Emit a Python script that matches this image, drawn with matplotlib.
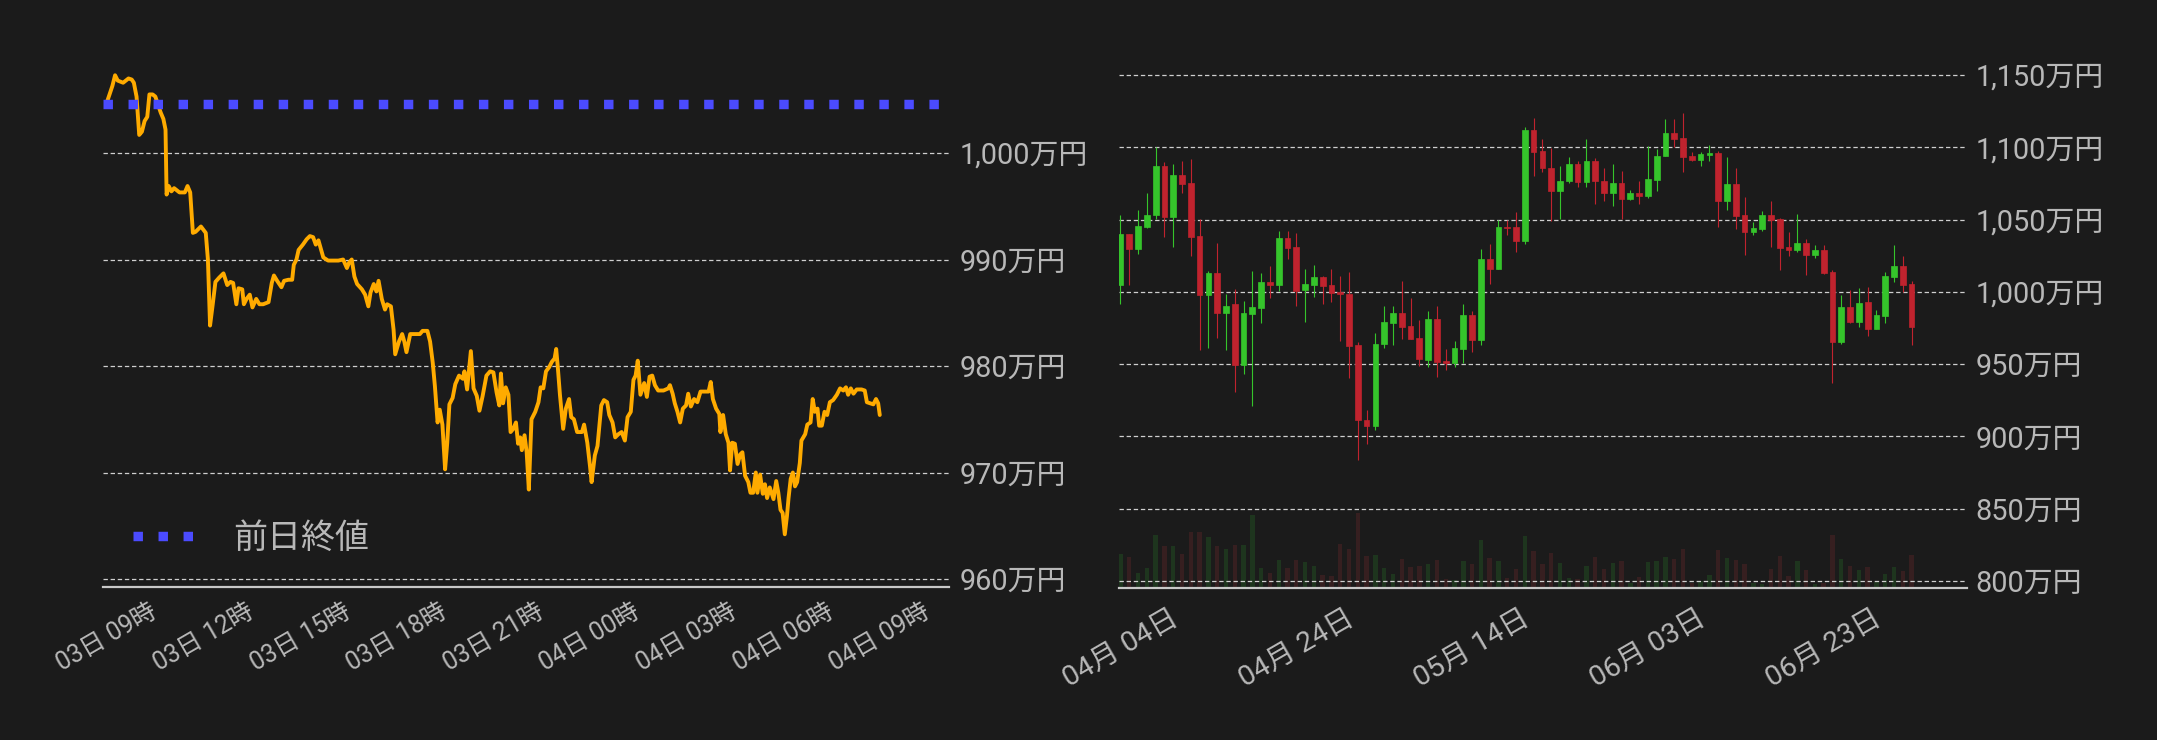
import matplotlib
matplotlib.use("Agg")
import matplotlib.pyplot as plt

plt.rcParams["font.family"] = ["Roboto", "Noto Sans CJK JP", "DejaVu Sans"]

BG = "#1b1b1b"
TXT = "#b8b8b8"
GRID = "#cfcfcf"
UP = "#35c42b"
DOWN = "#c0232e"
UP_VOL = "#1e351e"
DOWN_VOL = "#361f20"

# ---- intraday (minutes after 03日 09:00) ----
intra_min = [0, 10, 15, 20, 30, 40, 46, 50, 55, 60, 65, 70, 75, 79, 85, 90, 94, 100, 105, 109,
             111, 115, 120, 125, 135, 145, 150, 155, 160, 165, 175, 184, 188, 192, 197, 202, 209,
             217, 224, 230, 235, 241, 245, 252, 255, 260, 266, 271, 278, 284, 291, 301, 307, 311,
             317, 325, 330, 338, 345, 348, 353, 357, 365, 372, 378, 384, 389, 394, 398, 403, 412,
             422, 431, 440, 447, 451, 456, 461, 466, 475, 481, 487, 491, 497, 502, 506, 512, 518,
             522, 529, 534, 537, 544, 550, 554, 558, 565, 574, 583, 588, 597, 602, 607, 611, 616,
             620, 625, 630, 634, 638, 644, 649, 656, 663, 666, 671, 678, 683, 689, 694, 700, 707,
             714, 720, 726, 731, 734, 738, 743, 748, 752, 757, 762, 766, 770, 773, 778, 782, 786,
             791, 798, 804, 808, 813, 818, 824, 829, 834, 837, 840, 844, 850, 855, 861, 865, 870,
             876, 885, 889, 895, 900, 903, 909, 914, 921, 926, 932, 936, 942, 947, 953, 959, 965,
             970, 976, 981, 985, 989, 994, 1001, 1006, 1011, 1016, 1021, 1027, 1037, 1046, 1049,
             1054, 1058, 1063, 1068, 1073, 1079, 1083, 1088, 1094, 1100, 1106, 1114, 1121, 1125,
             1129, 1135, 1141, 1143, 1148, 1153, 1158, 1161, 1165, 1170, 1175, 1180, 1184, 1189,
             1195, 1199, 1204, 1209, 1212, 1217, 1222, 1226, 1230, 1235, 1242, 1247, 1251, 1255,
             1259, 1263, 1267, 1270, 1274, 1278, 1282, 1286, 1291, 1294, 1301, 1305, 1311, 1315,
             1319, 1324, 1327, 1332, 1337, 1342, 1347, 1353, 1360, 1366, 1372, 1377, 1381, 1386,
             1391, 1397, 1406, 1412, 1416, 1422, 1428, 1433, 1437, 1440]
intra_price = [1004.8, 1006.3, 1007.3, 1006.8, 1006.6, 1007.0, 1006.9, 1006.6, 1005.3, 1001.7,
               1002.0, 1003.0, 1003.4, 1005.5, 1005.5, 1005.3, 1004.7, 1003.8, 1003.2, 1002.2,
               996.1, 996.9, 996.4, 996.7, 996.3, 996.3, 996.9, 996.3, 992.5, 992.6, 993.1, 992.5,
               990.0, 983.8, 985.8, 987.9, 988.3, 988.7, 987.6, 987.9, 987.8, 985.8, 987.3, 987.2,
               985.8, 986.3, 986.7, 985.5, 986.3, 985.8, 985.8, 986.0, 987.8, 988.5, 988.0, 987.4,
               988.0, 988.1, 988.1, 989.5, 990.0, 990.9, 991.4, 991.9, 992.2, 992.1, 991.4, 991.8,
               991.1, 990.2, 989.9, 989.9, 989.9, 990.0, 989.2, 989.7, 990.0, 988.4, 987.7, 987.2,
               986.7, 985.6, 986.9, 987.7, 987.0, 988.0, 986.3, 985.3, 985.8, 985.6, 983.4, 981.1,
               982.3, 983.0, 982.3, 981.3, 983.0, 983.0, 983.0, 983.3, 983.3, 982.3, 980.3, 978.1,
               974.7, 975.9, 974.5, 970.3, 972.8, 976.4, 977.0, 978.3, 979.1, 978.8, 979.5, 977.8,
               981.4, 977.9, 977.2, 975.8, 977.2, 979.1, 979.5, 979.4, 977.5, 976.3, 979.3, 976.5,
               978.0, 977.3, 973.8, 974.1, 974.7, 972.7, 973.3, 972.1, 973.5, 971.9, 968.4, 975.0,
               975.7, 976.6, 978.0, 977.9, 979.5, 979.9, 980.4, 980.7, 981.6, 979.9, 977.3, 974.1,
               976.0, 976.9, 975.2, 975.0, 973.8, 973.8, 974.5, 972.8, 970.6, 969.1, 971.6, 972.5,
               976.3, 976.8, 976.6, 975.4, 974.7, 973.3, 973.6, 973.8, 973.0, 975.2, 975.7, 978.7,
               979.1, 980.5, 977.3, 978.4, 977.1, 979.0, 979.1, 978.2, 977.7, 977.7, 977.9, 978.2,
               977.4, 976.5, 975.7, 974.7, 976.0, 976.3, 977.4, 976.2, 976.9, 976.6, 977.6, 977.6,
               977.6, 978.5, 976.9, 976.0, 975.5, 973.8, 975.4, 973.6, 972.8, 970.2, 972.8, 972.7,
               970.8, 971.7, 971.9, 969.7, 969.1, 968.1, 968.1, 970.0, 968.1, 969.8, 968.0, 968.9,
               967.6, 968.6, 967.5, 969.2, 968.1, 966.5, 966.2, 964.2, 965.9, 967.6, 969.4, 970.0,
               968.7, 969.1, 970.9, 973.0, 973.6, 974.5, 974.7, 976.9, 975.7, 976.0, 974.4, 974.4,
               975.7, 975.4, 976.6, 976.8, 977.3, 977.9, 977.7, 978.0, 977.3, 977.9, 977.4, 977.8,
               977.8, 977.7, 976.6, 976.5, 976.4, 976.9, 976.5, 975.4]
prev_close = 1004.6

intra_ticks = [0, 180, 360, 540, 720, 900, 1080, 1260, 1440]
intra_labels = ["03日 09時", "03日 12時", "03日 15時", "03日 18時", "03日 21時",
                "04日 00時", "04日 03時", "04日 06時", "04日 09時"]
intra_yticks = [960, 970, 980, 990, 1000]

# ---- daily candles, 04月04日 .. 07月03日 ----
opens = [1004.6, 1040.1, 1029.5, 1044.8, 1053.1, 1086.7, 1051.7, 1080.5, 1075.0, 1038.3,
         997.7, 1012.7, 985.2, 991.2, 949.3, 984.5, 988.7, 1006.5, 1004.6, 1036.9,
         1030.7, 1001.2, 1004.6, 1009.9, 1004.4, 999.8, 998.8, 962.9, 911.6, 907.0,
         963.8, 978.3, 985.0, 976.0, 967.7, 952.7, 980.9, 951.8, 950.4, 960.3,
         983.6, 966.6, 1022.4, 1015.7, 1044.5, 1044.5, 1035.1, 1112.3, 1097.1, 1086.0,
         1069.7, 1076.6, 1088.1, 1075.9, 1090.2, 1077.0, 1068.3, 1075.0, 1063.9, 1068.1,
         1066.2, 1077.3, 1093.9, 1109.6, 1106.1, 1093.7, 1090.9, 1094.6, 1095.7, 1062.7,
         1074.3, 1052.8, 1041.3, 1043.4, 1052.8, 1050.3, 1030.7, 1028.8, 1034.1, 1025.4,
         1028.6, 1013.4, 965.2, 989.2, 979.0, 992.6, 974.2, 983.2, 1010.1, 1017.5, 1005.1]
highs = [1052.8, 1040.1, 1056.3, 1068.1, 1100.3, 1089.5, 1088.1, 1090.2, 1091.6, 1050.1,
         1014.1, 1034.1, 998.2, 1001.6, 993.3, 1014.1, 1012.7, 1017.5, 1041.8, 1042.4,
         1040.4, 1016.1, 1018.2, 1010.8, 1015.5, 1010.6, 1013.4, 964.9, 917.9, 971.2,
         989.9, 989.9, 1007.2, 995.4, 980.2, 986.4, 990.5, 960.1, 965.6, 991.2,
         986.4, 1029.3, 1032.8, 1049.4, 1049.4, 1054.9, 1113.7, 1120.0, 1105.4, 1099.2,
         1086.7, 1093.0, 1090.2, 1105.4, 1092.3, 1086.0, 1088.1, 1083.3, 1070.1, 1076.4,
         1100.6, 1098.5, 1119.3, 1119.3, 1123.4, 1096.4, 1096.4, 1101.3, 1097.1, 1093.0,
         1085.4, 1065.3, 1048.0, 1055.6, 1062.5, 1051.4, 1041.1, 1053.5, 1036.2, 1032.1,
         1032.3, 1014.8, 997.5, 1000.9, 1002.3, 1003.0, 987.1, 1013.4, 1032.3, 1025.1, 1007.8]
lows = [991.5, 1004.6, 1025.8, 1043.8, 1050.1, 1037.8, 1030.9, 1068.3, 1024.7, 959.4,
        961.0, 967.9, 959.4, 930.6, 943.0, 920.9, 978.3, 995.4, 1000.2, 1022.4,
        990.5, 979.0, 996.1, 991.2, 992.6, 965.6, 940.0, 883.3, 894.6, 904.0,
        961.0, 962.9, 967.2, 967.0, 948.3, 947.9, 940.9, 945.6, 947.9, 950.6,
        958.0, 962.9, 1005.1, 1015.7, 1039.0, 1027.2, 1033.4, 1080.0, 1082.6, 1048.7,
        1050.7, 1075.2, 1072.2, 1072.2, 1060.4, 1062.7, 1059.3, 1050.7, 1063.2, 1060.4,
        1064.8, 1069.7, 1093.9, 1100.1, 1082.8, 1090.2, 1087.0, 1090.2, 1044.8, 1056.5,
        1043.4, 1025.4, 1039.2, 1042.0, 1030.9, 1015.0, 1024.7, 1027.5, 1011.5, 1023.3,
        1012.0, 936.8, 963.8, 978.3, 975.3, 969.3, 974.2, 978.3, 1006.7, 999.8, 963.1]
closes = [1040.1, 1029.5, 1045.2, 1053.3, 1086.7, 1051.7, 1080.5, 1074.7, 1037.8, 997.7,
          1012.7, 985.2, 990.5, 949.3, 985.0, 989.2, 1006.5, 1004.6, 1036.9, 1030.2,
          1000.2, 1005.1, 1009.9, 1003.9, 999.3, 998.4, 962.4, 911.2, 907.0, 963.6,
          978.8, 985.0, 975.5, 967.2, 953.4, 980.9, 951.3, 950.4, 960.8, 983.6,
          966.6, 1022.4, 1015.7, 1044.5, 1044.1, 1035.1, 1112.3, 1096.7, 1085.6, 1069.7,
          1077.0, 1088.1, 1075.9, 1090.2, 1076.6, 1068.3, 1075.0, 1063.9, 1068.1, 1066.2,
          1077.7, 1094.3, 1109.6, 1105.7, 1093.2, 1090.9, 1095.0, 1095.7, 1062.7, 1074.3,
          1052.4, 1041.3, 1043.8, 1052.8, 1049.6, 1030.2, 1028.8, 1034.1, 1025.4, 1028.6,
          1012.9, 965.2, 989.2, 979.0, 991.9, 974.2, 983.6, 1010.6, 1017.5, 1004.6, 975.5]
volume = [102, 92, 44, 59, 159, 125, 125, 102, 167, 167,
          152, 125, 116, 128, 128, 218, 59, 44, 83, 59,
          83, 77, 65, 38, 35, 131, 116, 224, 95, 98,
          59, 41, 86, 62, 65, 71, 83, 26, 23, 80,
          71, 143, 89, 80, 29, 56, 155, 110, 71, 104,
          74, 29, 26, 65, 92, 56, 74, 80, 14, 32,
          77, 81, 92, 86, 116, 14, 22, 39, 113, 89,
          83, 71, 14, 12, 56, 95, 35, 80, 53, 12,
          14, 159, 86, 65, 53, 62, 17, 41, 62, 50, 98]

day_ticks = [0, 20, 40, 60, 80]
day_labels = ["04月 04日", "04月 24日", "05月 14日", "06月 03日", "06月 23日"]
daily_yticks = [800, 850, 900, 950, 1000, 1050, 1100, 1150]


def yen(v):
    return f"{v:,}万円"


def style(ax, ypad):
    ax.set_facecolor(BG)
    for s in ["top", "left", "right"]:
        ax.spines[s].set_visible(False)
    ax.spines["bottom"].set_color("#c8c8c8")
    ax.spines["bottom"].set_linewidth(1.6)
    ax.yaxis.tick_right()
    ax.tick_params(axis="both", length=0, colors=TXT)
    ax.tick_params(axis="y", pad=ypad, labelsize=20.8)
    ax.grid(axis="y", color=GRID, linewidth=0.9, linestyle=(0, (3.5, 2.2)))
    ax.set_axisbelow(True)


W, H = 2157, 740
fig = plt.figure(figsize=(W / 100, H / 100), dpi=100, facecolor=BG)

# ---------- left: intraday line ----------
ax1 = fig.add_axes([103 / W, (H - 587) / H, 846 / W, 537 / H])
style(ax1, 8)
ax1.plot(intra_min, intra_price, color="#ffab00", linewidth=2.8,
         solid_joinstyle="round", solid_capstyle="round")
ax1.axhline(prev_close, color="#4b4bff", linewidth=6.8, linestyle=":",
            dash_capstyle="butt", label="前日終値")
ax1.set_xlim(-7.5, 1569)
ax1.set_ylim(959.25, 959.25 + 537 / 10.65)
ax1.set_yticks(intra_yticks)
ax1.set_yticklabels([yen(v) for v in intra_yticks])
ax1.set_xticks(intra_ticks)
ax1.set_xticklabels(intra_labels, rotation=30, ha="center", fontsize=17.8)
ax1.tick_params(axis="x", pad=9)
leg = ax1.legend(loc="center left", bbox_to_anchor=(0.036, 0.09), frameon=False,
                 handlelength=1.83, handletextpad=1.1, borderpad=0, borderaxespad=0,
                 fontsize=24.5)
for t in leg.get_texts():
    t.set_color(TXT)

# ---------- right: daily candles + volume ----------
rect = [1119 / W, (H - 588) / H, 848 / W, 538 / H]
axv = fig.add_axes(rect)
axv.set_facecolor(BG)
axv.axis("off")
days = list(range(len(opens)))
vol_colors = [UP_VOL if c >= o else DOWN_VOL for o, c in zip(opens, closes)]
axv.bar(days, volume, width=0.5, color=vol_colors)
xlim_r = (-0.17, -0.17 + 848 / 8.79)
axv.set_xlim(*xlim_r)
axv.set_ylim(0, max(volume) * 7.2)

ax2 = fig.add_axes(rect)
style(ax2, 6)
ax2.patch.set_visible(False)
colors = [UP if c >= o else DOWN for o, c in zip(opens, closes)]
ax2.vlines(days, lows, highs, colors=colors, linewidth=0.8)
bottoms = [min(o, c) for o, c in zip(opens, closes)]
heights = [max(abs(c - o), 1.0) for o, c in zip(opens, closes)]
ax2.bar(days, heights, bottom=bottoms, width=0.65, color=colors,
        edgecolor=colors, linewidth=0.5)
ax2.set_xlim(*xlim_r)
ax2.set_ylim(795.0, 795.0 + 538 / 1.445)
ax2.set_yticks(daily_yticks)
ax2.set_yticklabels([yen(v) for v in daily_yticks])
ax2.set_xticks(day_ticks)
ax2.set_xticklabels(day_labels, rotation=30, ha="center", fontsize=20.5)
ax2.tick_params(axis="x", pad=12)

fig.savefig("out.png", dpi=100, facecolor=BG)
